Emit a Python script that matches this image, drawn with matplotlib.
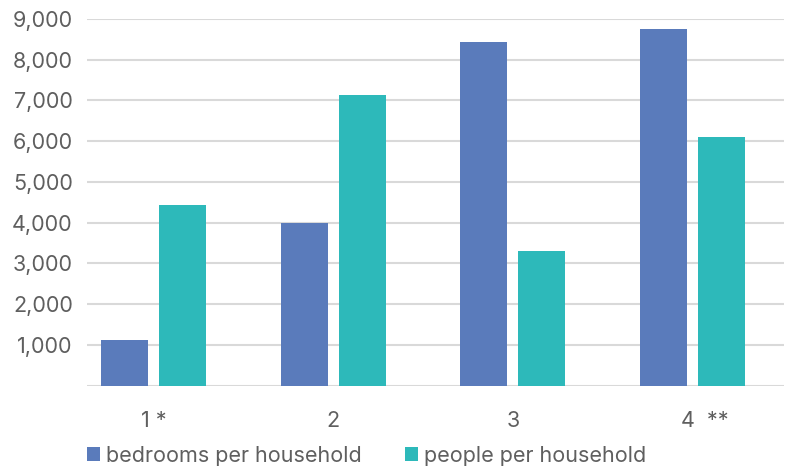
import matplotlib
matplotlib.use("Agg")
import matplotlib.pyplot as plt
import numpy as np

categories = ["1 *", "2", "3", "4 **"]
bedrooms = [1120, 4000, 8440, 8740]
people = [4440, 7140, 3310, 6110]
series_names = ["bedrooms per household", "people per household"]
yticks = [1000, 2000, 3000, 4000, 5000, 6000, 7000, 8000, 9000]

blue = "#5a7bbb"
teal = "#2db9ba"
gray_text = "#5f5f5f"
grid_col = "#d9d9d9"

plt.rcParams['font.family'] = ['Inter', 'DejaVu Sans']

fig = plt.figure(figsize=(7.88, 4.71), dpi=100)
ax = fig.add_axes([0.110, 0.181, 0.885, 0.779])

x = np.arange(len(categories))
w = 0.262
off = 0.162
ax.bar(x - off, bedrooms, width=w, color=blue, label=series_names[0], zorder=3)
ax.bar(x + off, people, width=w, color=teal, label=series_names[1], zorder=3)

ax.set_xlim(-0.373, 3.51)
ax.set_ylim(0, 9000)
ax.set_yticks(yticks)
ax.set_yticklabels([f"{v:,}" for v in yticks], fontsize=15.5, color=gray_text)
ax.set_xticks(x)
xlabels = [c if c != "4 **" else "    4  **" for c in categories]
ax.set_xticklabels(xlabels, fontsize=15.5, color=gray_text)
ax.tick_params(axis='both', length=0)
ax.tick_params(axis='y', pad=10)
ax.tick_params(axis='x', pad=18)
ax.yaxis.grid(True, color=grid_col, linewidth=1.5, zorder=0)
ax.axhline(0, color=grid_col, linewidth=1.5, zorder=2)
for s in ax.spines.values():
    s.set_visible(False)

leg = ax.legend(loc='upper left', bbox_to_anchor=(0.0, -0.163), ncol=2, frameon=False,
                fontsize=15.5, handlelength=0.6, handleheight=0.6, handletextpad=0.3,
                columnspacing=2.0, borderaxespad=0, borderpad=0)
for t in leg.get_texts():
    t.set_color(gray_text)

fig.savefig("out.png", dpi=100)
